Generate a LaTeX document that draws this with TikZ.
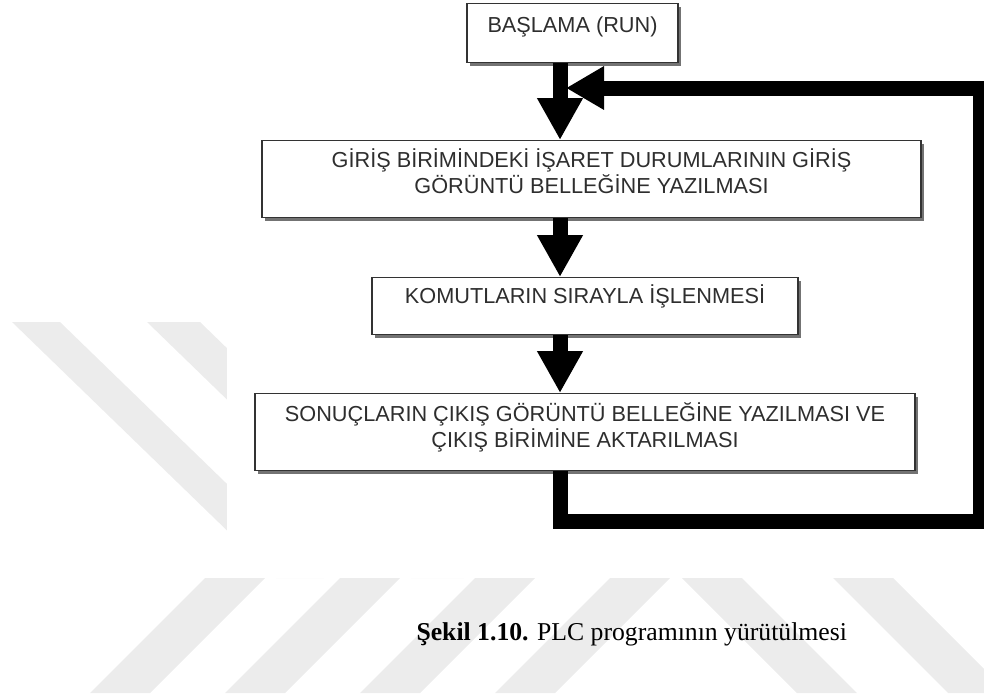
\documentclass[tikz,border=0pt]{standalone}
\usepackage{fontspec}
\setmainfont{Liberation Serif}
\newfontfamily\boxfont{Liberation Sans}
\usetikzlibrary{arrows.meta,shadows}

\definecolor{wmgray}{gray}{0.925}
\definecolor{boxtext}{gray}{0.18}

\begin{document}
\begin{tikzpicture}[x=1pt,y=-1pt,
  stepbox/.style={draw=black!80, line width=1.1pt, fill=white, inner sep=0pt,
    font=\boxfont\fontsize{21.7}{23}\selectfont, text=boxtext,
    drop shadow={shadow xshift=3pt, shadow yshift=-3pt, fill=black!55, opacity=1}},
  flow/.style={line width=15pt, draw=black, line cap=butt},
  downtip/.style={-{Triangle[width=43pt,length=42pt]}},
  backtip/.style={-{Triangle[width=41pt,length=38pt]}},
  wm/.style={fill=wmgray, draw=none}]

\useasboundingbox (0,0) rectangle (984,697);

% faint background stripes
\fill[wm] (12,322) -- (60,322) -- (324,578) -- (276,578) -- cycle;
\fill[wm] (147,322) -- (200,322) -- (464,578) -- (411,578) -- cycle;
\foreach \b in {90,225,360,495}{
  \fill[wm] (\b,693) -- (\b+60,693) -- (\b+175,578) -- (\b+115,578) -- cycle;
}
\fill[wm] (682,578) -- (742,578) -- (857,693) -- (797,693) -- cycle;
\fill[wm] (833,578) -- (893,578) -- (1008,693) -- (948,693) -- cycle;

% white sheet of the flowchart
\fill[white] (227,0) rectangle (984,578);

% process boxes
\node[stepbox, anchor=north, minimum width=211pt, text height=29pt, text depth=30pt]
  (b1) at (572.5,3) {BAŞLAMA (RUN)};
\node[stepbox, anchor=north, minimum width=659pt, text height=27pt, text depth=50pt]
  (b2) at (591.5,140) {\begin{tabular}[t]{@{}c@{}}GİRİŞ BİRİMİNDEKİ İŞARET DURUMLARININ GİRİŞ\\GÖRÜNTÜ BELLEĞİNE YAZILMASI\end{tabular}};
\node[stepbox, anchor=north, minimum width=426pt, text height=26pt, text depth=31pt]
  (b3) at (585,277) {KOMUTLARIN SIRAYLA İŞLENMESİ};
\node[stepbox, anchor=north, minimum width=660pt, text height=28pt, text depth=49pt]
  (b4) at (585,393) {\begin{tabular}[t]{@{}c@{}}SONUÇLARIN ÇIKIŞ GÖRÜNTÜ BELLEĞİNE YAZILMASI VE\\ÇIKIŞ BİRİMİNE AKTARILMASI\end{tabular}};

% flow axis and loop corners
\coordinate (axis) at (560,0);
\coordinate (c1) at (560,521);
\coordinate (c2) at (980,521);
\coordinate (c3) at (980,88);
\coordinate (loopend) at (566,88);

% connectors
\draw[flow, downtip] (axis |- b1.south) -- (axis |- b2.north);
\draw[flow, downtip] (axis |- b2.south) -- (axis |- b3.north);
\draw[flow, downtip] (axis |- b3.south) -- (axis |- b4.north);
\draw[flow, backtip] (axis |- b4.south) -- (c1) -- (c2) -- (c3) -- (loopend);

% caption
\node[anchor=base west, font=\fontsize{25.7}{30}\selectfont] (cap) at (413,640)
  {\textbf{Şekil 1.10.} PLC programının yürütülmesi};
\end{tikzpicture}
\end{document}
